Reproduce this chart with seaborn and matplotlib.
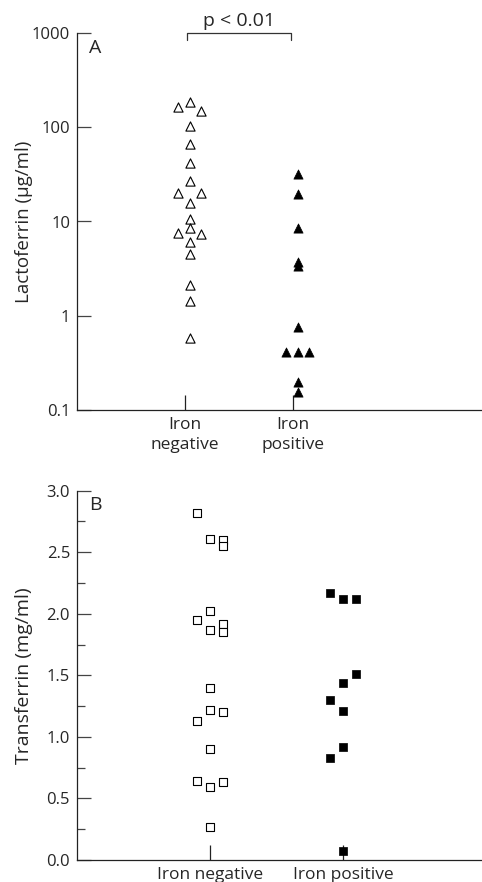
import numpy as np
import pandas as pd
import matplotlib
matplotlib.use("Agg")
import matplotlib.pyplot as plt
import seaborn as sns

# Panel A: lactoferrin (ug/ml), log scale
lf_neg = [163, 185, 150, 103, 67, 42, 27, 20, 20, 15.6, 10.6, 8.5, 7.5, 7.3,
          6.1, 4.5, 2.1, 1.43, 0.58]
lf_neg_col = [-1, 0, 1, 0, 0, 0, 0, -1, 1, 0, 0, 0, -1, 1, 0, 0, 0, 0, 0]
lf_pos = [32, 19.4, 8.5, 3.7, 3.4, 0.76, 0.41, 0.41, 0.41, 0.20, 0.154]
lf_pos_col = [0, 0, 0, 0, 0, 0, -1, 0, 1, 0, 0]

# Panel B: transferrin (mg/ml)
tf_neg = [2.82, 2.61, 2.60, 2.55, 1.95, 2.02, 1.87, 1.92, 1.85, 1.40, 1.22,
          1.20, 1.13, 0.90, 0.64, 0.59, 0.63, 0.27]
tf_neg_col = [-1, 0, 1, 1, -1, 0, 0, 1, 1, 0, 0, 1, -1, 0, -1, 0, 1, 0]
tf_pos = [2.17, 2.12, 2.12, 1.515, 1.437, 1.30, 1.21, 0.92, 0.83, 0.075]
tf_pos_col = [-1, 0, 1, 1, 0, -1, 0, 0, -1, 0]

labels_a = ["Iron\nnegative", "Iron\npositive"]
labels_b = ["Iron negative", "Iron positive"]

sns.set_style("ticks")
plt.rcParams["font.family"] = ["Open Sans", "DejaVu Sans"]
plt.rcParams["font.size"] = 12


def make_df(neg, neg_col, pos, pos_col, step, shift):
    df = pd.DataFrame({
        "value": neg + pos,
        "group": ["neg"] * len(neg) + ["pos"] * len(pos),
        "col": neg_col + pos_col,
    })
    df["x"] = (df["group"] == "pos").astype(float) + df["col"] * step + shift
    return df


def style_axes(ax, labels, xlim):
    sns.despine(ax=ax)
    for s in ["left", "bottom"]:
        ax.spines[s].set_color("#222222")
        ax.spines[s].set_linewidth(0.9)
    ax.set_xlim(*xlim)
    ax.set_xticks([0, 1])
    ax.set_xticklabels(labels, linespacing=1.35)
    ax.tick_params(axis="x", direction="in", length=11, width=0.9,
                   color="#222222", pad=5, labelsize=12.5)
    ax.tick_params(axis="y", direction="in", length=10, width=0.9,
                   color="#444444", pad=5, labelsize=12)
    ax.set_xlabel("")


fig = plt.figure(figsize=(4.82, 8.82), dpi=100)
ax1 = fig.add_axes([77 / 482, 1 - 410 / 882, 405 / 482, 377 / 882])
ax2 = fig.add_axes([77 / 482, 1 - 860 / 882, 405 / 482, 369.3 / 882])

# ---- Panel A ----
dfa = make_df(lf_neg, lf_neg_col, lf_pos, lf_pos_col, 0.107, 0.045)
sns.scatterplot(data=dfa[dfa.group == "neg"], x="x", y="value", ax=ax1,
                marker="^", s=44, facecolor="white", edgecolor="black",
                linewidth=0.8)
sns.scatterplot(data=dfa[dfa.group == "pos"], x="x", y="value", ax=ax1,
                marker="^", s=44, color="black", edgecolor="black",
                linewidth=0.5)
ax1.set_yscale("log")
ax1.set_ylim(0.1, 1000)
ax1.set_yticks([0.1, 1, 10, 100, 1000])
ax1.set_yticklabels(["0.1", "1", "10", "100", "1000"])
ax1.yaxis.set_minor_locator(matplotlib.ticker.NullLocator())
style_axes(ax1, labels_a, (-1.0, 2.75))
ax1.set_ylabel("Lactoferrin (\u03bcg/ml)", fontsize=13.5)
ax1.yaxis.set_label_coords(-0.108, 0.5)
ax1.text(0.03, 0.9615, "A", transform=ax1.transAxes, fontsize=14,
         va="center", ha="left")
# significance bracket
ax1.plot([0.02, 0.02, 0.98, 0.98], [840, 1000, 1000, 840], color="#333333",
         lw=0.9, clip_on=False)
ax1.text(0.5, 1340, "p < 0.01", ha="center", va="center", fontsize=14)

# ---- Panel B ----
dfb = make_df(tf_neg, tf_neg_col, tf_pos, tf_pos_col, 0.1, 0.0)
sns.scatterplot(data=dfb[dfb.group == "neg"], x="x", y="value", ax=ax2,
                marker="s", s=34, facecolor="white", edgecolor="black",
                linewidth=0.8)
sns.scatterplot(data=dfb[dfb.group == "pos"], x="x", y="value", ax=ax2,
                marker="s", s=34, color="black", edgecolor="black",
                linewidth=0.5)
ax2.set_ylim(0, 3.0)
ax2.set_yticks(np.arange(0, 3.01, 0.5))
ax2.set_yticklabels([f"{v:.1f}" for v in np.arange(0, 3.01, 0.5)])
ax2.yaxis.set_minor_locator(matplotlib.ticker.MultipleLocator(0.25))
ax2.tick_params(axis="y", which="minor", direction="in", length=6,
                width=0.9, color="#444444")
style_axes(ax2, labels_b, (-1.0, 2.045))
ax2.set_ylabel("Transferrin (mg/ml)", fontsize=14)
ax2.yaxis.set_label_coords(-0.108, 0.5)
ax2.text(0.03, 0.961, "B", transform=ax2.transAxes, fontsize=14,
         va="center", ha="left")

fig.savefig("out.png", dpi=100)
